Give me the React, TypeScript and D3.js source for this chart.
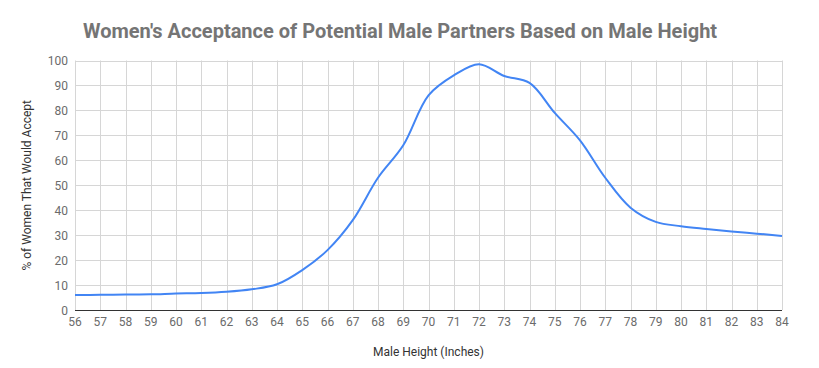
import React from "react";
import * as d3 from "d3";

const heights: number[] = [56, 57, 58, 59, 60, 61, 62, 63, 64, 65, 66, 67, 68, 69, 70, 71, 72, 73, 74, 75, 76, 77, 78, 79, 80, 81, 82, 83, 84];
const acceptance: number[] = [6.0, 6.1, 6.2, 6.3, 6.6, 6.8, 7.3, 8.3, 10.3, 16, 24, 36, 53, 66, 86, 94, 98.5, 93.8, 91, 79, 68, 53, 41, 35.3, 33.6, 32.5, 31.5, 30.6, 29.7];
const yTicks: number[] = [0, 10, 20, 30, 40, 50, 60, 70, 80, 90, 100];

const title = "Women's Acceptance of Potential Male Partners Based on Male Height";
const xTitle = "Male Height (Inches)";
const yTitle = "% of Women That Would Accept";

const W = 819;
const H = 368;
const left = 75;
const right = 782;
const top = 60.5;
const bottom = 310;

export default function App() {
  const x = d3.scaleLinear().domain([56, 84]).range([left, right]);
  const y = d3.scaleLinear().domain([0, 100]).range([bottom, top]);
  const data = heights.map((h, i) => [h, acceptance[i]] as [number, number]);
  const line = d3
    .line<[number, number]>()
    .x((d) => x(d[0]))
    .y((d) => y(d[1]))
    .curve(d3.curveCatmullRom.alpha(0.5));

  const font = "Roboto, 'Noto Sans', Arial, sans-serif";

  return (
    <svg
      width={W}
      height={H}
      style={{ position: "absolute", left: 0, top: 0, background: "#fff" }}
      fontFamily={font}
    >
      <rect x={0} y={0} width={W} height={H} fill="#fff" />
      <text x={83} y={38} fontSize={20} fontWeight="bold" fill="#757575">
        {title}
      </text>
      {yTicks.map((t) => (
        <g key={"y" + t}>
          {t !== 0 && (
            <line x1={left} x2={right} y1={Math.round(y(t)) + 0.5} y2={Math.round(y(t)) + 0.5} stroke="#d6d6d6" strokeWidth={1} />
          )}
          <text x={68} y={y(t) + 4.5} fontSize={12} fill="#6b6b6b" textAnchor="end">
            {t}
          </text>
        </g>
      ))}
      {heights.map((h) => (
        <g key={"x" + h}>
          <line x1={Math.round(x(h)) + 0.5} x2={Math.round(x(h)) + 0.5} y1={top} y2={bottom} stroke="#d6d6d6" strokeWidth={1} />
          <text x={x(h)} y={326} fontSize={12} fill="#6b6b6b" textAnchor="middle">
            {h}
          </text>
        </g>
      ))}
      <line x1={left} x2={right} y1={bottom + 0.5} y2={bottom + 0.5} stroke="#333" strokeWidth={1} />
      <path d={line(data) || ""} fill="none" stroke="#4285F4" strokeWidth={2} />
      <text x={(left + right) / 2} y={356} fontSize={12} fill="#333" textAnchor="middle">
        {xTitle}
      </text>
      <text
        transform={`translate(31, ${(top + bottom) / 2}) rotate(-90)`}
        fontSize={12}
        fill="#333"
        textAnchor="middle"
      >
        {yTitle}
      </text>
    </svg>
  );
}
